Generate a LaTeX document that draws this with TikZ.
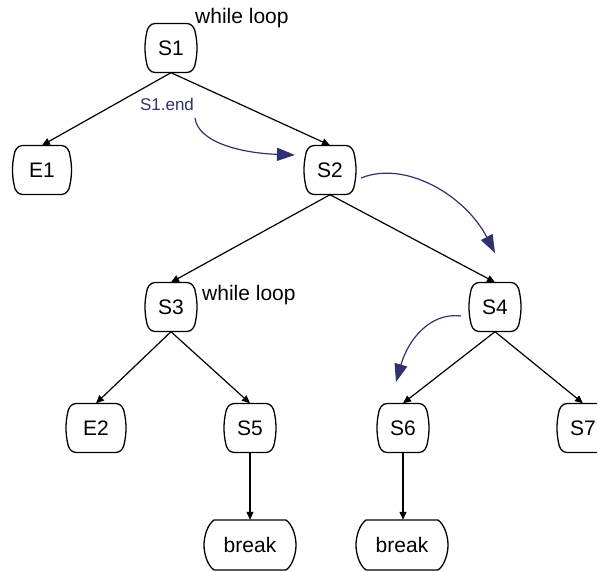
\documentclass[tikz,border=0pt]{standalone}
\usepackage{fontspec}
\setmainfont{Liberation Sans}
\usetikzlibrary{arrows.meta}
\definecolor{navy}{HTML}{2E3173}
\tikzset{
  x=1pt,y=1pt,
  stmt/.style={minimum width=52pt,minimum height=49pt,inner sep=0pt,font=\fontsize{21}{24}\selectfont},
  stmtw/.style={stmt,minimum width=59pt},
  brk/.style={minimum width=92pt,minimum height=50pt,inner sep=0pt,font=\fontsize{21}{24}\selectfont},
  edge/.style={line width=1.2pt,-{Triangle[length=8pt,width=7pt]}},
  flow/.style={line width=1.2pt,navy,-{Triangle[length=18pt,width=13pt]}},
  outline/.style={line width=1.3pt},
  note/.style={font=\fontsize{21}{24}\selectfont,inner sep=0pt},
}
\newcommand\stmtshape[2]{% name, half width
  \draw[outline,shift={(#1.center)}]
    ({-#2+10},24.5) -- ({#2-10},24.5)
    .. controls ({#2-5},24.5) and ({#2-2},19.5) .. ({#2-1.5},14.5)
    .. controls ({#2+0.5},4.5) and ({#2+0.5},-4.5) .. ({#2-1.5},-14.5)
    .. controls ({#2-2},-19.5) and ({#2-5},-24.5) .. ({#2-10},-24.5)
    -- ({-#2+10},-24.5)
    .. controls ({-#2+5},-24.5) and ({-#2+2},-19.5) .. ({-#2+1.5},-14.5)
    .. controls ({-#2-0.5},-4.5) and ({-#2-0.5},4.5) .. ({-#2+1.5},14.5)
    .. controls ({-#2+2},19.5) and ({-#2+5},24.5) .. cycle;}
\newcommand\brkshape[1]{%
  \draw[outline,shift={(#1.center)}]
    (-36,25) -- (36,25)
    .. controls (43,20) and (46,8) .. (46,0)
    .. controls (46,-8) and (43,-20) .. (36,-25)
    -- (-36,-25)
    .. controls (-43,-20) and (-46,-8) .. (-46,0)
    .. controls (-46,8) and (-43,20) .. cycle;}
\begin{document}
\begin{tikzpicture}
\useasboundingbox (0,0) rectangle (597,-571);
\node[stmt]  (S1) at (171,-48)  {S1};
\node[stmtw] (E1) at (42,-170)  {E1};
\node[stmt]  (S2) at (330,-170) {S2};
\node[stmt]  (S3) at (171,-307) {S3};
\node[stmt]  (S4) at (495,-307) {S4};
\node[stmtw] (E2) at (96,-428)  {E2};
\node[stmt]  (S5) at (250,-428) {S5};
\node[stmt]  (S6) at (403,-428) {S6};
\node[stmt]  (S7) at (583,-428) {S7};
\node[brk]   (B1) at (250,-545) {break};
\node[brk]   (B2) at (402,-545) {break};
\stmtshape{S1}{26}
\stmtshape{E1}{29.5}
\stmtshape{S2}{26}
\stmtshape{S3}{26}
\stmtshape{S4}{26}
\stmtshape{E2}{30}
\stmtshape{S5}{26}
\stmtshape{S6}{26}
\stmtshape{S7}{26}
\brkshape{B1}
\brkshape{B2}
\node[note,anchor=west] (w1) at (195,-18) {while loop};
\node[note,anchor=west] (w2) at (202,-295) {while loop};
\node[font=\fontsize{17}{20}\selectfont,text=navy,inner sep=0pt] (lbl) at (167,-104) {S1.end};
\draw[edge] (S1.south) -- (E1.north);
\draw[edge] (S1.south) -- (S2.north);
\draw[edge] (S2.south) -- (S3.north);
\draw[edge] (S2.south) -- (S4.north);
\draw[edge] (S3.south) -- (E2.north);
\draw[edge] (S3.south) -- (S5.north);
\draw[edge] (S4.south) -- (S6.north);
\draw[edge] (S4.south) -- (S7.north);
\draw[edge] (S5.south) -- (B1.north);
\draw[edge] (S6.south) -- (S6.south |- B2.north);
\coordinate (a1) at (195,-118);
\coordinate (b1) at (295,-155);
\coordinate (a2) at (361,-178);
\coordinate (b2) at (495,-253);
\coordinate (a3) at (461,-316);
\coordinate (b3) at (396,-382);
\draw[flow] (a1) .. controls (198,-142) and (240,-153) .. (b1);
\draw[flow] (a2) .. controls (405,-160) and (465,-195) .. (b2);
\draw[flow] (a3) .. controls (430,-312) and (408,-340) .. (b3);
\end{tikzpicture}
\end{document}
